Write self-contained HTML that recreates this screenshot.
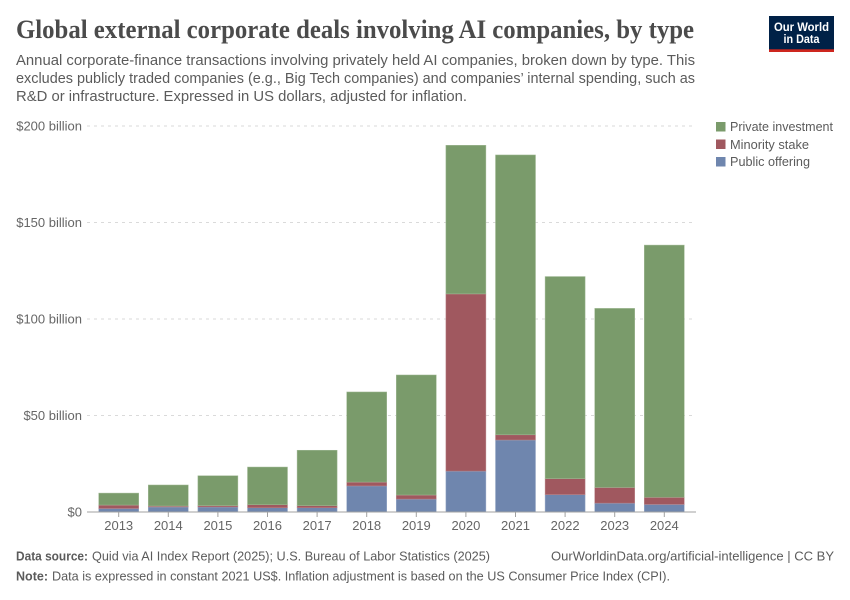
<!DOCTYPE html>
<html lang="en">
<head>
<meta charset="utf-8">
<title>Global external corporate deals involving AI companies, by type</title>
<style>
html,body{margin:0;padding:0;background:#fff;}
svg{display:block;font-family:"Liberation Sans",sans-serif;}
.sub{font-size:15px;fill:#5b5b5b;}
.tick{font-size:13px;fill:#666;}
.leg{font-size:13px;fill:#5b5b5b;}
.foot{font-size:13px;fill:#5b5b5b;}
</style>
</head>
<body>
<svg id="chart" width="850" height="600" viewBox="0 0 850 600" xmlns="http://www.w3.org/2000/svg">
  <rect width="850" height="600" fill="#fff"/>
  <text x="16" y="38" font-family="'Liberation Serif',serif" font-weight="700" font-size="26" fill="#4b4b4b" textLength="678" lengthAdjust="spacingAndGlyphs">Global external corporate deals involving AI companies, by type</text>
  <text class="sub" x="16" y="65" textLength="679" lengthAdjust="spacingAndGlyphs">Annual corporate-finance transactions involving privately held AI companies, broken down by type. This</text>
  <text class="sub" x="16" y="83" textLength="679" lengthAdjust="spacingAndGlyphs">excludes publicly traded companies (e.g., Big Tech companies) and companies’ internal spending, such as</text>
  <text class="sub" x="16" y="101" textLength="451" lengthAdjust="spacingAndGlyphs">R&amp;D or infrastructure. Expressed in US dollars, adjusted for inflation.</text>

  <g>
    <rect x="769" y="16" width="65" height="36" fill="#002147"/>
    <rect x="769" y="49.3" width="65" height="2.7" fill="#ce261e"/>
    <text x="801.5" y="31" text-anchor="middle" font-size="12" font-weight="700" fill="#fff" textLength="55" lengthAdjust="spacingAndGlyphs">Our World</text>
    <text x="801.5" y="43" text-anchor="middle" font-size="12" font-weight="700" fill="#fff" textLength="36" lengthAdjust="spacingAndGlyphs">in Data</text>
  </g>

  <g id="grid"></g>
  <g id="yticks"></g>
  <g id="bars"></g>
  <g id="xaxis"></g>

  <g>
    <g>
      <rect x="716" y="122" width="9.5" height="9.5" fill="#7a9b6b"/>
      <text class="leg" x="730" y="131" textLength="103" lengthAdjust="spacingAndGlyphs">Private investment</text>
    </g>
    <g>
      <rect x="716" y="139.5" width="9.5" height="9.5" fill="#a0585f"/>
      <text class="leg" x="730" y="149" textLength="79" lengthAdjust="spacingAndGlyphs">Minority stake</text>
    </g>
    <g>
      <rect x="716" y="157" width="9.5" height="9.5" fill="#6f86ae"/>
      <text class="leg" x="730" y="166" textLength="80" lengthAdjust="spacingAndGlyphs">Public offering</text>
    </g>
  </g>

  <text class="foot" x="16" y="560.5" font-weight="700" textLength="72" lengthAdjust="spacingAndGlyphs">Data source:</text>
  <text class="foot" x="92" y="560.5" textLength="398" lengthAdjust="spacingAndGlyphs">Quid via AI Index Report (2025); U.S. Bureau of Labor Statistics (2025)</text>
  <text class="foot" x="551" y="560.5" textLength="283" lengthAdjust="spacingAndGlyphs">OurWorldinData.org/artificial-intelligence | CC BY</text>
  <text class="foot" x="16" y="580.5" font-weight="700" textLength="32" lengthAdjust="spacingAndGlyphs">Note:</text>
  <text class="foot" x="52" y="580.5" textLength="618" lengthAdjust="spacingAndGlyphs">Data is expressed in constant 2021 US$. Inflation adjustment is based on the US Consumer Price Index (CPI).</text>
</svg>
<script>
const years = [2013, 2014, 2015, 2016, 2017, 2018, 2019, 2020, 2021, 2022, 2023, 2024];
const publicOffering = [1.8, 2.6, 2.6, 2.2, 2.2, 13.5, 6.7, 21.2, 37.3, 9.0, 4.6, 3.9];
const minorityStake = [1.8, 0.5, 0.7, 1.6, 1.1, 2.0, 2.1, 91.8, 2.7, 8.3, 8.1, 3.7];
const privateInvestment = [6.2, 10.9, 15.5, 19.5, 28.7, 46.7, 62.2, 77.0, 145.0, 104.7, 92.8, 130.7];
const yTickValues = [0, 50, 100, 150, 200];
const yTickLabels = ['$0', '$50 billion', '$100 billion', '$150 billion', '$200 billion'];

const NS = 'http://www.w3.org/2000/svg';
function y(v) { return 512 - v * 1.93; }
function x(i) { return 118.7 + i * 49.6; }
const barWidth = 40;

function make(parent, tag, attrs) {
  const el = document.createElementNS(NS, tag);
  for (const k in attrs) el.setAttribute(k, attrs[k]);
  parent.appendChild(el);
  return el;
}

const grid = document.getElementById('grid');
const yticks = document.getElementById('yticks');
yTickValues.forEach(function (v, i) {
  if (v !== 0) {
    const line = make(grid, 'line', { x1: 87, x2: 696, y1: y(v), y2: y(v), stroke: '#dadada', 'stroke-dasharray': '3 4', 'stroke-width': 1 });
    
    
  }
  const t = make(yticks, 'text', { x: 82, y: y(v) + 4.5, 'text-anchor': 'end', class: 'tick' });
  t.textContent = yTickLabels[i];
  
  
});

const bars = document.getElementById('bars');
const seriesList = [
  { key: 'public', values: publicOffering, fill: '#6f86ae', stroke: '#9aabc8' },
  { key: 'minority', values: minorityStake, fill: '#a0585f', stroke: '#bd8a8f' },
  { key: 'private', values: privateInvestment, fill: '#7a9b6b', stroke: '#a3bb97' }
];
years.forEach(function (yr, i) {
  let base = 0;
  seriesList.forEach(function (s) {
    const v = s.values[i];
    const top = y(base + v);
    const r = make(bars, 'rect', { x: x(i) - barWidth / 2, y: top, width: barWidth, height: y(base) - top, fill: s.fill, stroke: s.stroke, 'stroke-width': 0.5 });
    
    
    base += v;
  });
});

const xaxis = document.getElementById('xaxis');
const axisLine = make(xaxis, 'line', { x1: 87, x2: 696, y1: 512, y2: 512, stroke: '#a1a1a1', 'stroke-width': 1 });


years.forEach(function (yr, i) {
  const tk = make(xaxis, 'line', { x1: x(i), x2: x(i), y1: 512, y2: 517, stroke: '#a1a1a1', 'stroke-width': 1 });
  
  
  const t = make(xaxis, 'text', { x: x(i), y: 530, 'text-anchor': 'middle', class: 'tick' });
  t.textContent = yr;
  
  
});
</script>
</body>
</html>
